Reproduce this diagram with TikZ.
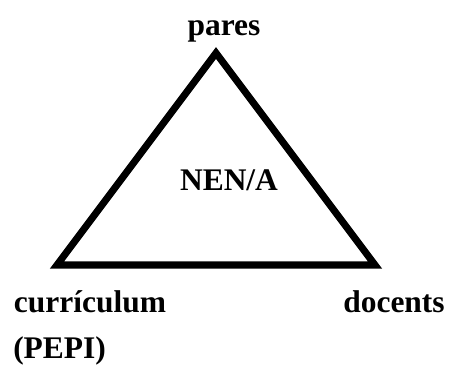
\documentclass[tikz,border=0pt]{standalone}
\usepackage{fontspec}
\setmainfont{Liberation Serif}
\usepackage{tikz}

\begin{document}
\begin{tikzpicture}[x=0.75pt, y=-0.75pt,
    every node/.style={font=\fontsize{23.6}{28}\selectfont\bfseries, inner sep=0pt, anchor=base},
    side/.style={line width=5.3pt, line join=miter}]
    \useasboundingbox (0,0) rectangle (449,369);

    % corners of the triangle
    \coordinate (top) at (216,53);
    \coordinate (left) at (57,265);
    \coordinate (right) at (375,265);

    % triangle
    \draw[side] (top) -- (left) -- (right) -- cycle;

    % labels
    \node (pares) at (224,35) {pares};
    \node (nena) at (229,190) {NEN/A};
    \node (curriculum) at (90,312) {currículum};
    \node (docents) at (394,312) {docents};
    \node[anchor=base west] (pepi) at (13,358) {(PEPI)};
\end{tikzpicture}
\end{document}
